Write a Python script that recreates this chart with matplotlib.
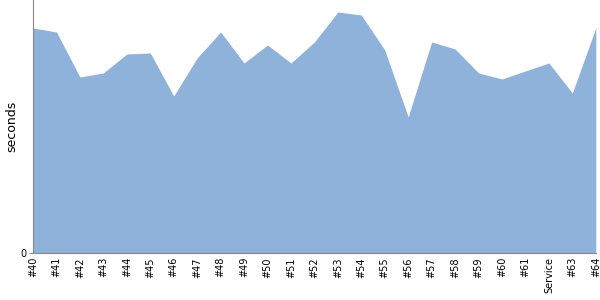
import matplotlib
matplotlib.use('Agg')
import matplotlib.pyplot as plt

builds = ['#40', '#41', '#42', '#43', '#44', '#45', '#46', '#47', '#48', '#49',
          '#50', '#51', '#52', '#53', '#54', '#55', '#56', '#57', '#58', '#59',
          '#60', '#61', 'Service', '#63', '#64']
seconds = [225, 221, 176, 180, 199, 200, 157, 195, 221, 190,
           208, 190, 211, 241, 238, 203, 136, 211, 204, 180,
           174, 182, 190, 160, 225]

fig = plt.figure(figsize=(6, 3), dpi=100)
ax = fig.add_axes([0.055, 0.157, 0.938, 0.843])

x = list(range(len(builds)))
ax.fill_between(x, seconds, 0, color='#8fb2da', linewidth=0)

ax.set_xlim(0, len(builds) - 1)
ax.set_ylim(0, 253)
ax.set_xticks(x)
ax.set_xticklabels(builds, rotation=90, fontsize=7)
ax.set_yticks([0])
ax.set_yticklabels(['0'], fontsize=7)
ax.set_ylabel('seconds', fontsize=9, labelpad=1)

for s in ['top', 'right']:
    ax.spines[s].set_visible(False)
for s in ['left', 'bottom']:
    ax.spines[s].set_color('#888888')
ax.tick_params(axis='x', length=0, pad=3)
ax.tick_params(axis='y', length=3, color='#888888', pad=2)

fig.savefig('out.png', dpi=100)
